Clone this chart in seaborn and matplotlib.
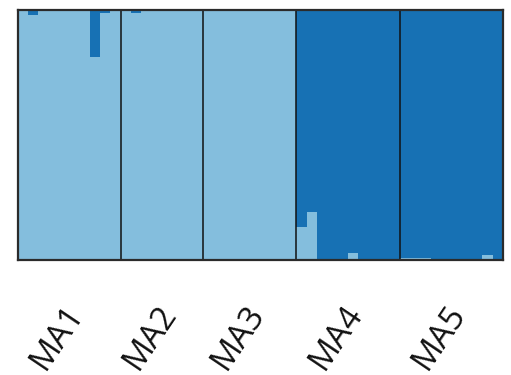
import matplotlib
matplotlib.use("Agg")
import matplotlib.pyplot as plt
import matplotlib.transforms as mtransforms
import numpy as np
import pandas as pd
import seaborn as sns

# Population labels and individual ancestry proportions for the light cluster (K=2);
# the dark cluster makes up the remainder of each bar.
populations = ["MA1", "MA2", "MA3", "MA4", "MA5"]
ma1_light = [0.995, 0.980, 0.995, 0.995, 0.997, 0.998, 0.998, 0.810, 0.988, 0.995]
ma2_light = [0.998, 0.987, 0.998, 0.997, 0.998, 0.998, 0.999, 0.999]
ma3_light = [0.999, 0.999, 0.999, 0.999, 0.999, 0.999, 0.999, 0.999, 0.997]
ma4_light = [0.131, 0.190, 0.004, 0.003, 0.002, 0.028, 0.003, 0.002, 0.004, 0.003]
ma5_light = [0.006, 0.006, 0.005, 0.002, 0.001, 0.001, 0.001, 0.002, 0.017, 0.004]

light_color = "#84bedd"
dark_color = "#1771b4"

groups = [ma1_light, ma2_light, ma3_light, ma4_light, ma5_light]
rows = []
idx = 0
for pop, vals in zip(populations, groups):
    for v in vals:
        rows.append({"ind": idx, "pop": pop, "light": v, "total": 1.0})
        idx += 1
df = pd.DataFrame(rows)
n = len(df)

sns.set_theme(style="white")
plt.rcParams["font.family"] = ["Open Sans", "DejaVu Sans"]

fig = plt.figure(figsize=(5.11, 3.75), dpi=100)
ax = fig.add_axes([17.5 / 511, 1 - 259.5 / 375, (503 - 17.5) / 511, (259.5 - 9.5) / 375])

order = list(range(n))
# full-height bars in the dark cluster colour, then light cluster stacked from the bottom
sns.barplot(data=df, x="ind", y="total", order=order, color=dark_color,
            width=1.0, linewidth=0, saturation=1, ax=ax, errorbar=None)
sns.barplot(data=df, x="ind", y="light", order=order, color=light_color,
            width=1.0, linewidth=0, saturation=1, ax=ax, errorbar=None)

ax.set_xlim(-0.5, n - 0.5)
ax.set_ylim(0, 1)
ax.set_yticks([])
ax.set_xlabel("")
ax.set_ylabel("")

# population separators and labels
sizes = [len(g) for g in groups]
edges = np.cumsum([0] + sizes)
for e in edges[1:-1]:
    ax.axvline(e - 0.5, color="#111111", lw=1.1)
centers = [(edges[i] + edges[i + 1]) / 2 - 0.5 for i in range(len(sizes))]
ax.set_xticks(centers)
ax.set_xticklabels(populations, rotation=56, ha="center", va="top", fontsize=24,
                   color="#111111")
ax.tick_params(axis="x", length=0, pad=28)
offset = mtransforms.ScaledTranslation(-12 / 100, 0, fig.dpi_scale_trans)
for lab in ax.get_xticklabels():
    lab.set_transform(lab.get_transform() + offset)

for s in ax.spines.values():
    s.set_visible(True)
    s.set_color("#2b2b2b")
    s.set_linewidth(1.6)

fig.savefig("out.png", dpi=100)
